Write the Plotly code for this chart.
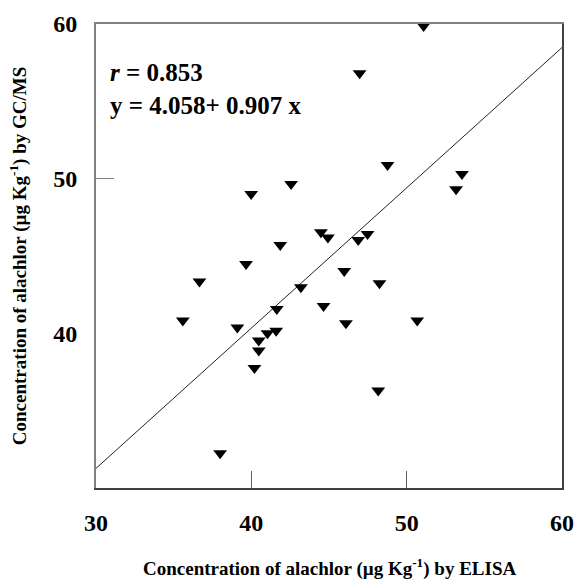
import plotly.graph_objects as go

# Data (ELISA vs GC/MS, µg/kg)
elisa = [42.56, 39.99, 41.86, 39.66, 36.66, 48.77, 44.48, 44.93, 47.48, 46.88,
         45.98, 48.25, 43.19, 35.59, 39.10, 41.64, 41.04, 41.60, 40.48, 40.48,
         40.20, 37.99, 44.65, 46.09, 50.68, 48.17, 53.56, 53.18, 51.09, 46.97]
gcms = [49.66, 49.01, 45.71, 44.49, 43.35, 50.89, 46.53, 46.19, 46.43, 46.04,
        44.03, 43.24, 42.98, 40.83, 40.37, 41.58, 40.01, 40.16, 39.53, 38.89,
        37.76, 32.25, 41.77, 40.65, 40.83, 36.30, 50.30, 49.31, 59.87, 56.81]

intercept = 4.058
slope = 0.907
r_value = 0.853
fit_x = [30, 60]
fit_y = [intercept + slope * v for v in fit_x]

x_ticks = [30, 40, 50, 60]
y_ticks = [40, 50, 60]

FONT = "Liberation Serif"

fig = go.Figure()
fig.add_trace(go.Scatter(x=fit_x, y=fit_y, mode="lines",
                         line=dict(color="#222222", width=1), hoverinfo="skip",
                         showlegend=False))
fig.add_trace(go.Scatter(x=elisa, y=gcms, mode="markers",
                         marker=dict(symbol="triangle-down", size=12, color="black",
                                     line=dict(width=0)),
                         cliponaxis=False, showlegend=False))

fig.update_layout(
    width=574, height=579,
    margin=dict(l=96, r=12, t=24, b=91, autoexpand=False),
    paper_bgcolor="white", plot_bgcolor="white",
    showlegend=False,
    xaxis=dict(range=[30, 60], tickvals=x_ticks, ticktext=[str(v) for v in x_ticks],
               ticks="inside", ticklen=17, tickcolor="#606060", tickwidth=1,
               showgrid=False, zeroline=False,
               showline=True, linecolor="#404040", linewidth=2,
               tickfont=dict(family=FONT, size=24, color="black", weight="bold"),
               ticklabelstandoff=12),
    yaxis=dict(range=[30, 60], tickvals=y_ticks, ticktext=[str(v) for v in y_ticks],
               ticks="", showgrid=False, zeroline=False,
               showline=True, linecolor="#808080", linewidth=2,
               tickfont=dict(family=FONT, size=24, color="black", weight="bold"),
               ticklabelstandoff=12),
    xaxis2=dict(range=[30, 60], overlaying="x", side="top", showticklabels=False,
                ticks="", showgrid=False, zeroline=False,
                showline=True, linecolor="#808080", linewidth=1.5),
    yaxis2=dict(range=[30, 60], overlaying="y", side="left", tickvals=[50],
                showticklabels=False, ticks="inside", ticklen=18,
                tickcolor="#808080", tickwidth=1, showgrid=False, zeroline=False,
                showline=False),
    yaxis3=dict(range=[30, 60], overlaying="y", side="right", showticklabels=False,
                ticks="", showgrid=False, zeroline=False,
                showline=True, linecolor="#404040", linewidth=2),
)

# empty traces to activate the overlay axes
fig.add_trace(go.Scatter(x=[None], y=[None], xaxis="x2", yaxis="y2", showlegend=False))
fig.add_trace(go.Scatter(x=[None], y=[None], xaxis="x", yaxis="y3", showlegend=False))

fig.add_annotation(
    xref="paper", yref="paper", x=0.026, y=0.859, xanchor="left", yanchor="middle",
    align="left", showarrow=False,
    text=f"<i>r</i> = {r_value:.3f}<br>y = {intercept:.3f}+ {slope:.3f} x",
    font=dict(family=FONT, size=25, color="black", weight="bold"))

fig.add_annotation(
    xref="paper", yref="paper", x=0.5, y=-0.171, xanchor="center", yanchor="middle",
    showarrow=False,
    text="Concentration of alachlor (µg Kg<sup>-1</sup>) by ELISA",
    font=dict(family=FONT, size=19, color="black", weight="bold"))

fig.add_annotation(
    xref="paper", yref="paper", x=-0.167, y=0.5, xanchor="center", yanchor="middle",
    textangle=-90, showarrow=False,
    text="Concentration of alachlor (µg Kg<sup>-1</sup>) by GC/MS",
    font=dict(family=FONT, size=19, color="black", weight="bold"))

# remove the default page margin so the 574x579 figure fills the window exactly
fig.write_html("out.html",
               config={"displayModeBar": False},
               post_script="document.body.style.margin='0';document.body.style.overflow='hidden';")
